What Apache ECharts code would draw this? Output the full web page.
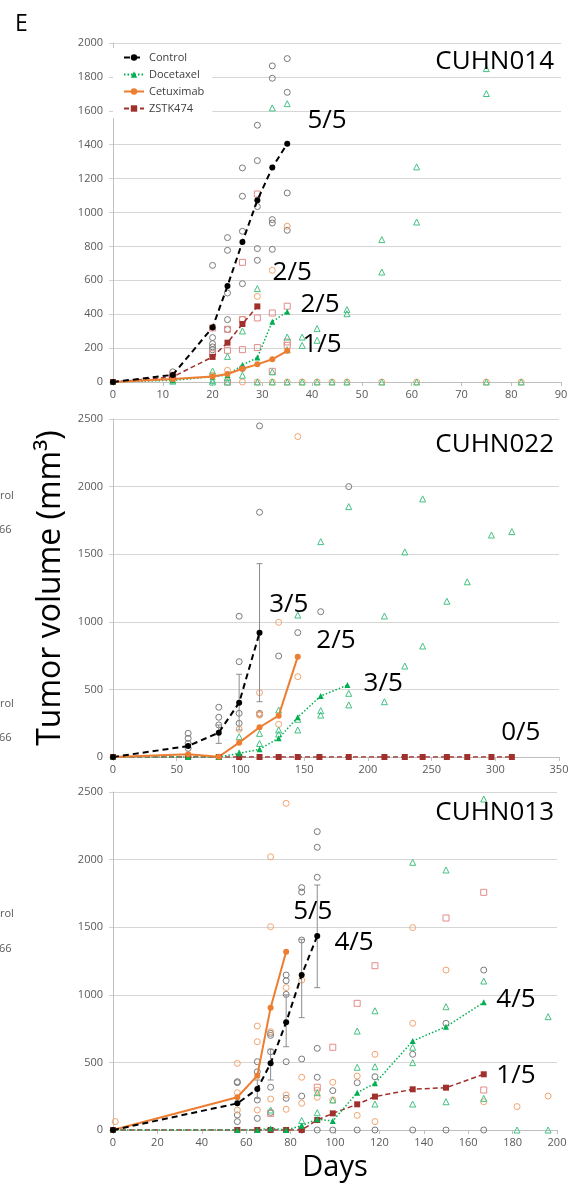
<!DOCTYPE html>
<html><head><meta charset="utf-8">
<script src="https://cdn.jsdelivr.net/npm/echarts@6/dist/echarts.min.js"></script>
<style>html,body{margin:0;padding:0;background:#fff}#c{width:581px;height:1184px}</style>
</head><body><div id="c"></div>
<script>
// ---------- Panel 1: CUHN014 ----------
const p1Days = [0, 12, 20, 23, 26, 29, 32, 35];
const p1ControlMean = [0, 42, 322, 566, 826, 1072, 1265, 1406];
const p1DocetaxelMean = [0, 10, 31, 41, 100, 144, 356, 415];
const p1CetuximabMean = [0, 18, 33, 47, 78, 104, 134, 184];
const p1ZstkDays = [0, 12, 20, 23, 26, 29];
const p1ZstkMean = [0, 30, 148, 232, 342, 446];
const p1ControlPts = [[12,60],[12,35],[20,688],[20,262],[20,226],[20,207],[20,190],[23,852],[23,777],[23,525],[23,368],[23,310],[26,1263],[26,1096],[26,889],[26,580],[26,80],[29,1515],[29,1306],[29,1035],[29,787],[29,718],[32,1865],[32,1792],[32,958],[32,938],[32,783],[35,1908],[35,1709],[35,1115],[35,895]];
const p1DocetaxelPts = [[12,5],[20,65],[20,10],[23,151],[23,25],[26,301],[26,40],[29,551],[32,1617],[32,60],[35,1642],[35,265],[35,190],[38,265],[38,216],[41,315],[41,246],[47,427],[47,403],[54,840],[54,649],[61,1269],[61,944],[75,1849],[75,1702],[20,0],[23,0],[29,0],[32,0],[35,0],[38,0],[41,0],[44,0],[47,0],[54,0],[61,0],[75,0],[82,0]];
const p1CetuximabPts = [[12,10],[20,40],[23,69],[26,370],[29,505],[32,659],[35,919],[26,0],[29,0],[32,0],[35,0],[38,0],[41,0],[44,0],[47,0],[54,0],[61,0],[75,0],[82,0]];
const p1ZstkPts = [[12,40],[20,319],[20,167],[23,311],[23,187],[23,0],[26,706],[26,368],[26,191],[29,1109],[29,378],[29,203],[32,407],[32,63],[35,447],[35,236],[35,216]];
const p1Ratios = [[43,1540,'5/5'],[36,643,'2/5'],[41.6,454,'2/5'],[42,218,'1/5']];

// ---------- Panel 2: CUHN022 ----------
const p2ControlDays = [0, 59, 83, 99, 115];
const p2ControlMean = [0, 81, 180, 402, 919];
const p2ControlErr = [[83,101,237],[99,200,612],[115,409,1430]];
const p2CetuximabDays = [0, 59, 83, 99, 115, 130, 145];
const p2CetuximabMean = [0, 20, 2, 106, 220, 306, 742];
const p2DocetaxelDays = [0, 59, 83, 99, 115, 130, 145, 163, 184];
const p2DocetaxelMean = [0, 0, 0, 27, 57, 138, 294, 451, 532];
const p2ZstkDays = [0, 59, 83, 99, 115, 130, 145, 162, 185, 213, 229, 243, 262, 278, 297, 313];
const p2ZstkMean = [0, 0, 0, 0, 0, 0, 0, 0, 0, 0, 0, 0, 0, 0, 0, 0];
const p2ControlPts = [[59,175],[59,138],[59,101],[59,64],[83,368],[83,294],[83,237],[99,1041],[99,705],[99,323],[99,249],[115,2449],[115,1810],[115,323],[115,315],[130,747],[145,920],[163,1075],[185,2000]];
const p2CetuximabPts = [[99,205],[115,476],[115,318],[115,310],[130,996],[130,242],[145,2370],[145,594]];
const p2DocetaxelPts = [[99,150],[99,30],[115,175],[115,100],[130,348],[130,200],[130,170],[145,1050],[145,279],[145,200],[163,1593],[163,343],[163,310],[185,1852],[185,471],[185,385],[213,1043],[213,409],[229,1517],[229,673],[243,1909],[243,821],[262,1152],[278,1296],[297,1642],[313,1667]];
const p2ZstkPts = [];
const p2Ratios = [[138,1130,'3/5'],[175,859,'2/5'],[212,545,'3/5'],[320,181,'0/5']];

// ---------- Panel 3: CUHN013 ----------
const p3ControlDays = [0, 56, 65, 71, 78, 85, 92];
const p3ControlMean = [0, 197, 303, 493, 797, 1146, 1435];
const p3ControlErr = [[65,234,370],[71,370,597],[78,616,999],[85,831,1410],[92,1053,1812]];
const p3CetuximabDays = [0, 56, 65, 71, 78];
const p3CetuximabMean = [0, 242, 402, 905, 1319];
const p3TreatDays = [0, 56, 65, 71, 78, 85, 92, 99, 110, 118, 135, 150, 167];
const p3DocetaxelMean = [0, 0, 0, 12, 0, 32, 80, 67, 276, 345, 658, 764, 944];
const p3ZstkMean = [0, 0, 0, 0, 0, 0, 74, 123, 190, 247, 301, 313, 412];
const p3ControlPts = [[56,357],[56,350],[56,111],[56,62],[65,505],[65,431],[65,222],[65,86],[71,715],[71,700],[71,579],[71,316],[71,130],[78,1146],[78,1104],[78,1003],[78,505],[78,234],[85,1793],[85,1760],[85,1405],[85,525],[85,251],[92,2207],[92,2091],[92,1869],[92,604],[92,390],[99,291],[110,350],[118,394],[135,560],[150,789],[167,1183],[85,0],[92,0],[99,0],[110,0],[118,0],[135,0],[150,0],[167,0]];
const p3CetuximabPts = [[1,62],[56,493],[56,276],[56,148],[65,769],[65,653],[65,148],[71,2021],[71,1504],[71,727],[71,229],[78,2416],[78,1053],[78,259],[78,153],[85,1109],[85,390],[85,197],[92,242],[92,294],[99,353],[99,222],[110,399],[110,108],[118,560],[118,62],[135,1497],[135,789],[150,1183],[167,209],[182,173],[196,251]];
const p3DocetaxelPts = [[71,148],[85,70],[85,30],[92,276],[92,128],[99,222],[110,732],[110,464],[118,882],[118,468],[118,192],[135,1980],[135,612],[135,498],[135,192],[150,1923],[150,912],[150,209],[167,2448],[167,1102],[167,234],[182,0],[196,838],[196,0]];
const p3ZstkPts = [[71,123],[92,316],[99,612],[110,937],[118,1215],[150,1568],[167,1758],[167,296]];
const p3Ratios = [[90,1615,'5/5'],[108.6,1387,'4/5'],[181.5,962,'4/5'],[181.5,401,'1/5']];

// ---------- axes / labels ----------
const panelTitles = ['CUHN014', 'CUHN022', 'CUHN013'];
const xMax = [90, 350, 200], xStep = [10, 50, 20];
const yMax = [2000, 2500, 2500], yStep = [200, 500, 500];
const legendNames = ['Control', 'Docetaxel', 'Cetuximab', 'ZSTK474'];

// ---------- styling ----------
const FONT = 'Open Sans';
const COL = {ctrl:'#000000', doc:'#00b050', cet:'#ed7d31', zstk:'#a0302c',
  ctrlPt:'#7a7a7a', docPt:'#45c283', cetPt:'#f2a46e', zstkPt:'#e28c88'};
const gridBox = [{top:43,height:339,right:20},{top:419,height:338,right:22},{top:792,height:338,right:24}];
const titleTop = [49, 432, 800];

const zip = (d, v) => d.map((x, i) => [x, v[i]]);

function meanSeries(name, data, gi, color, type, width, symbol, size) {
  return {type:'line', name, xAxisIndex:gi, yAxisIndex:gi, data, color, symbol, symbolSize:size,
    showSymbol:true, lineStyle:{color, width, type}, itemStyle:{color}, z:4, silent:true};
}
function ptSeries(data, gi, color, symbol, size) {
  return {type:'scatter', name:'pts', xAxisIndex:gi, yAxisIndex:gi, data, symbol, symbolSize:size,
    itemStyle:{color:'rgba(255,255,255,0)', borderColor:color, borderWidth:1, opacity:1}, z:2, silent:true};
}
function errSeries(data, gi) {
  return {type:'custom', name:'err', xAxisIndex:gi, yAxisIndex:gi, data, encode:{x:0, y:[1,2]}, z:3, silent:true,
    renderItem(params, api) {
      const x = api.value(0), lo = api.coord([x, api.value(1)]), hi = api.coord([x, api.value(2)]);
      const st = {stroke:'#8c8c8c', lineWidth:1}, w = 3;
      return {type:'group', children:[
        {type:'line', shape:{x1:lo[0], y1:lo[1], x2:hi[0], y2:hi[1]}, style:st},
        {type:'line', shape:{x1:lo[0]-w, y1:lo[1], x2:lo[0]+w, y2:lo[1]}, style:st},
        {type:'line', shape:{x1:hi[0]-w, y1:hi[1], x2:hi[0]+w, y2:hi[1]}, style:st}]};
    }};
}
function ratioSeries(data, gi) {
  return {type:'scatter', name:'ratio', xAxisIndex:gi, yAxisIndex:gi, data, symbolSize:1, encode:{x:0, y:1},
    itemStyle:{color:'rgba(0,0,0,0)', opacity:1}, z:6, silent:true,
    label:{show:true, position:'inside', formatter:p => p.data[2], fontSize:26, fontFamily:FONT,
      color:'#000', opacity:1, textBorderWidth:0, textShadowBlur:0}};
}
function panelSeries(gi, m, pts, err, ratios) {
  const s = [
    ptSeries(pts.ctrl, gi, COL.ctrlPt, 'circle', 6),
    ptSeries(pts.cet, gi, COL.cetPt, 'circle', 6),
    ptSeries(pts.zstk, gi, COL.zstkPt, 'rect', 6),
    ptSeries(pts.doc, gi, COL.docPt, 'triangle', 6),
  ];
  if (err) s.push(errSeries(err, gi));
  s.push(
    meanSeries('ZSTK474', m.zstk, gi, COL.zstk, [5,3], 1.5, 'rect', 6),
    meanSeries('Docetaxel', m.doc, gi, COL.doc, [1.5,2], 1.5, 'triangle', 6),
    meanSeries('Cetuximab', m.cet, gi, COL.cet, 'solid', 2, 'circle', 6),
    meanSeries('Control', m.ctrl, gi, COL.ctrl, [6,4], 2, 'circle', 6),
    ratioSeries(ratios, gi));
  return s;
}

const series = [].concat(
  panelSeries(0,
    {ctrl:zip(p1Days,p1ControlMean), doc:zip(p1Days,p1DocetaxelMean), cet:zip(p1Days,p1CetuximabMean), zstk:zip(p1ZstkDays,p1ZstkMean)},
    {ctrl:p1ControlPts, doc:p1DocetaxelPts, cet:p1CetuximabPts, zstk:p1ZstkPts}, null, p1Ratios),
  panelSeries(1,
    {ctrl:zip(p2ControlDays,p2ControlMean), doc:zip(p2DocetaxelDays,p2DocetaxelMean), cet:zip(p2CetuximabDays,p2CetuximabMean), zstk:zip(p2ZstkDays,p2ZstkMean)},
    {ctrl:p2ControlPts, doc:p2DocetaxelPts, cet:p2CetuximabPts, zstk:p2ZstkPts}, p2ControlErr, p2Ratios),
  panelSeries(2,
    {ctrl:zip(p3ControlDays,p3ControlMean), doc:zip(p3TreatDays,p3DocetaxelMean), cet:zip(p3CetuximabDays,p3CetuximabMean), zstk:zip(p3TreatDays,p3ZstkMean)},
    {ctrl:p3ControlPts, doc:p3DocetaxelPts, cet:p3CetuximabPts, zstk:p3ZstkPts}, p3ControlErr, p3Ratios)
);

const axisLabel = {fontSize:11, color:'#595959', fontFamily:FONT, formatter: v => String(v)};
const option = {
  animation:false,
  backgroundColor:'#fff',
  grid: gridBox.map(g => ({left:113, right:g.right, top:g.top, height:g.height})),
  xAxis: [0,1,2].map(i => ({type:'value', gridIndex:i, min:0, max:xMax[i], interval:xStep[i],
    axisLine:{show:true, lineStyle:{color:'#bfbfbf'}}, axisTick:{show:true, length:4, lineStyle:{color:'#bfbfbf'}},
    splitLine:{show:false}, axisLabel:Object.assign({margin:7}, axisLabel),
    name: i === 2 ? 'Days' : '', nameLocation:'middle', nameGap:23,
    nameTextStyle:{fontSize:29, color:'#000', fontFamily:FONT}})),
  yAxis: [0,1,2].map(i => ({type:'value', gridIndex:i, min:0, max:yMax[i], interval:yStep[i],
    axisLine:{show:true, lineStyle:{color:'#bfbfbf'}}, axisTick:{show:true, length:4, lineStyle:{color:'#d0d0d0'}},
    splitLine:{show:true, lineStyle:{color:'#d6d6d6'}}, axisLabel:Object.assign({margin:10}, axisLabel),
    name: i === 1 ? 'Tumor volume (mm³)' : '', nameLocation:'middle', nameGap:46,
    nameTextStyle:{fontSize:32, color:'#000', fontFamily:FONT}})),
  title: panelTitles.map((t, i) => ({text:t, right:27, top:titleTop[i], padding:0,
    textStyle:{fontSize:26, fontWeight:'normal', color:'#000', fontFamily:FONT}})),
  legend: {data:legendNames, orient:'vertical', left:113, top:48, padding:[4,8,4,10], itemGap:6,
    itemWidth:20, itemHeight:8, backgroundColor:'#fff', selectedMode:false,
    textStyle:{fontSize:11, color:'#404040', fontFamily:FONT}},
  graphic: [
    {type:'text', x:15, y:24, style:{text:'E', fontSize:23, fontFamily:FONT, fill:'#000', verticalAlign:'middle'}},
    {type:'text', x:0, y:496, style:{text:'rol', fontSize:11, fontFamily:FONT, fill:'#595959', verticalAlign:'middle'}},
    {type:'text', x:-1, y:530, style:{text:'66', fontSize:11, fontFamily:FONT, fill:'#595959', verticalAlign:'middle'}},
    {type:'text', x:0, y:704, style:{text:'rol', fontSize:11, fontFamily:FONT, fill:'#595959', verticalAlign:'middle'}},
    {type:'text', x:-1, y:738, style:{text:'66', fontSize:11, fontFamily:FONT, fill:'#595959', verticalAlign:'middle'}},
    {type:'text', x:0, y:914, style:{text:'rol', fontSize:11, fontFamily:FONT, fill:'#595959', verticalAlign:'middle'}},
    {type:'text', x:-1, y:949, style:{text:'66', fontSize:11, fontFamily:FONT, fill:'#595959', verticalAlign:'middle'}}
  ],
  series
};
const chart = echarts.init(document.getElementById('c'), null, {renderer:'canvas'});
chart.setOption(option);
</script>
</body></html>
